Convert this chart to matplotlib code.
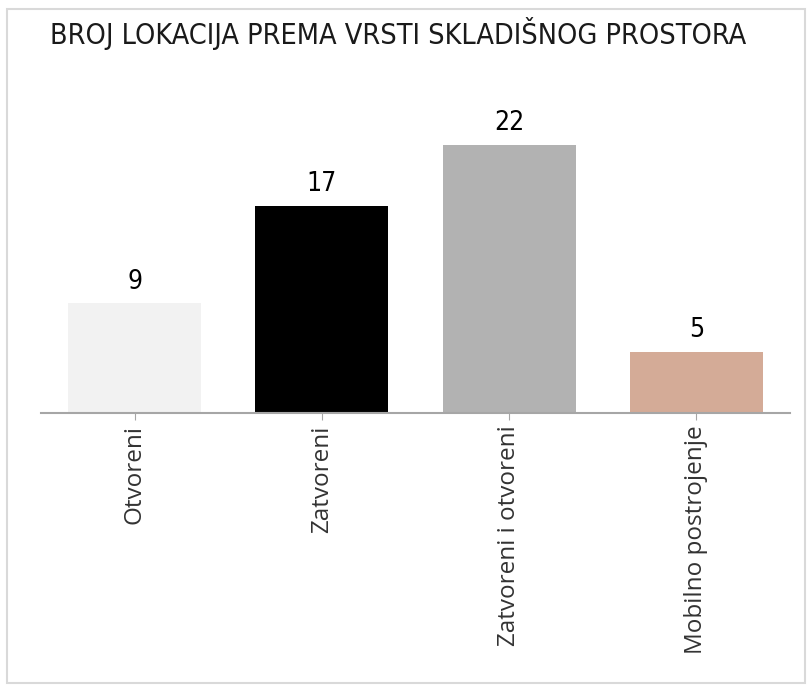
import matplotlib
matplotlib.use("Agg")
import matplotlib.pyplot as plt
from matplotlib.patches import Rectangle

categories = ["Otvoreni", "Zatvoreni", "Zatvoreni i otvoreni", "Mobilno postrojenje"]
values = [9, 17, 22, 5]
colors = ["#F2F2F2", "#000000", "#B2B2B2", "#D4AB97"]
title = "BROJ LOKACIJA PREMA VRSTI SKLADIŠNOG PROSTORA"

fig = plt.figure(figsize=(8.11, 6.86), dpi=100)
fig.patch.set_facecolor("white")

# light gray frame around the chart
fig.patches.append(Rectangle((7 / 811, 3 / 686), 798 / 811, 674 / 686,
                             transform=fig.transFigure, fill=False,
                             edgecolor="#D9D9D9", linewidth=1.5))

ax = fig.add_axes([41 / 811, 1 - 413 / 686, 749 / 811, 305 / 686])
x = range(len(categories))
bars = ax.bar(x, values, width=0.71, color=colors)
ax.set_xlim(-0.5, len(categories) - 0.5)
ax.set_ylim(0, 25)

for b, v in zip(bars, values):
    ax.text(b.get_x() + b.get_width() / 2, v + 0.7, str(v),
            ha="center", va="bottom", fontsize=19,
            family="DejaVu Sans", fontstretch="condensed")

for s in ["top", "right", "left"]:
    ax.spines[s].set_visible(False)
ax.spines["bottom"].set_color("#A6A6A6")
ax.spines["bottom"].set_linewidth(1.5)
ax.set_yticks([])
ax.set_xticks(list(x))
ax.set_xticklabels(categories, rotation=90, fontsize=17.5, family="Open Sans",
                   color="#333333")
ax.tick_params(axis="x", length=5, color="#A6A6A6", pad=4)

fig.text(50 / 811, 1 - 33 / 686, title, ha="left", va="center", fontsize=20.6,
         family="DejaVu Sans", fontstretch="condensed", color="#1A1A1A")

fig.savefig("out.png", dpi=100)
